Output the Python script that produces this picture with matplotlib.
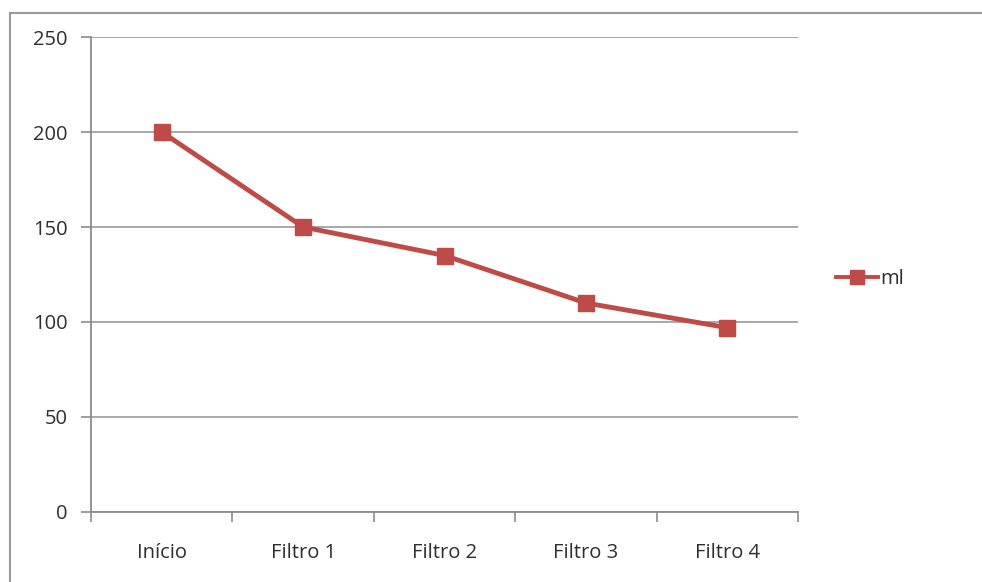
import matplotlib
matplotlib.use('Agg')
import matplotlib.pyplot as plt
from matplotlib.lines import Line2D

# volume after each filtering stage
stages = ["Início", "Filtro 1", "Filtro 2", "Filtro 3", "Filtro 4"]
volume_ml = [200, 150, 135, 110, 97]
y_ticks = [0, 50, 100, 150, 200, 250]

plt.rcParams['font.family'] = ['Open Sans', 'DejaVu Sans']

fig = plt.figure(figsize=(9.82, 5.82), dpi=100)
ax = fig.add_axes([0.0927, 0.1203, 0.72, 0.8161])

red = '#BE4B48'
grey = '#8C8C8C'
text_col = '#2E2E2E'

x = list(range(len(stages)))
ax.plot(x, volume_ml, color=red, lw=3.5, marker='s', markersize=11,
        markerfacecolor=red, markeredgecolor=red, label='ml', zorder=3)

ax.set_xlim(-0.5, len(stages) - 0.5)
ax.set_ylim(0, 250)
ax.set_yticks(y_ticks)
ax.set_yticklabels([str(v) for v in y_ticks], fontsize=14.5, color=text_col)

# category labels sit between the boundary tick marks
ax.set_xticks([i - 0.5 for i in range(len(stages) + 1)])
ax.set_xticklabels([])
ax.set_xticks(x, minor=True)
ax.set_xticklabels(stages, minor=True, fontsize=14.5, color=text_col)
ax.tick_params(axis='x', which='major', length=7, color=grey, width=1.2)
ax.tick_params(axis='x', which='minor', length=0, pad=22)
ax.tick_params(axis='y', length=7, color=grey, width=1.2, pad=10)

ax.grid(axis='y', color='#9A9A9A', lw=1.2)
ax.set_axisbelow(True)
for side in ['top', 'right']:
    ax.spines[side].set_visible(False)
for side in ['left', 'bottom']:
    ax.spines[side].set_color(grey)
    ax.spines[side].set_linewidth(1.3)

leg = fig.legend(handles=[Line2D([], [], color=red, lw=2.8, marker='s', markersize=10,
                                 markerfacecolor=red, markeredgecolor=red)],
                 labels=['ml'], loc='center left', bbox_to_anchor=(0.833, 0.52),
                 frameon=False, fontsize=14.5, handlelength=2.1, handletextpad=0.1)
for t in leg.get_texts():
    t.set_color(text_col)

# chart area border
fig.add_artist(Line2D([10 / 982, 10 / 982], [0, 1 - 13 / 582],
                      transform=fig.transFigure, color='#9A9A9A', lw=1.5))
fig.add_artist(Line2D([10 / 982, 1], [1 - 13 / 582, 1 - 13 / 582],
                      transform=fig.transFigure, color='#9A9A9A', lw=1.5))

fig.savefig('out.png', dpi=100, facecolor='white')
